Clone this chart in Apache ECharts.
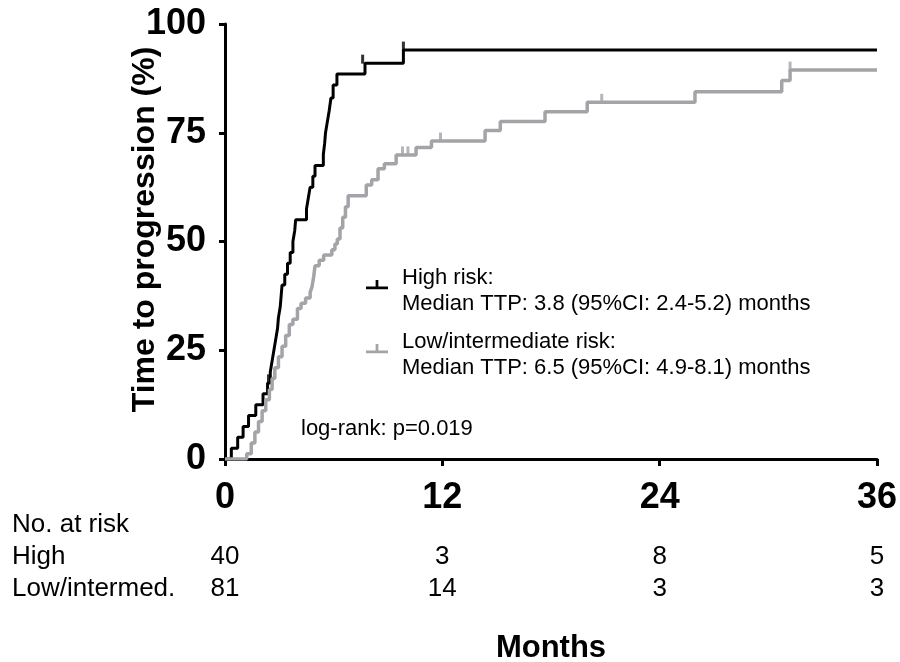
<!DOCTYPE html>
<html>
<head>
<meta charset="utf-8">
<script src="https://cdn.jsdelivr.net/npm/echarts/dist/echarts.min.js"></script>
<style>html,body{margin:0;padding:0;background:#fff}#c{width:900px;height:662px}</style>
</head>
<body>
<div id="c"></div>
<script>
// High risk group: cumulative % with progression over months
const highTimes = [0, 0.35, 0.7, 1.0, 1.3, 1.7, 2.1, 2.35, 2.5, 2.6, 2.7, 2.8, 2.9, 2.95, 3.05, 3.1, 3.15, 3.3, 3.45, 3.6, 3.75, 3.85, 3.9, 4.5, 4.6, 4.7, 4.85, 4.97, 5.43, 5.5, 5.55, 5.65, 5.75, 5.85, 5.97, 6.18, 7.73, 9.85, 36];
const highPct   = [0, 2.5, 5, 7.5, 10, 12.5, 15, 17.5, 20, 22.5, 25, 27.5, 30, 32.5, 35, 37.5, 40, 42.5, 45, 47.5, 50, 52.5, 55, 57.5, 60, 62.5, 65, 67.5, 70, 72.5, 75, 77.5, 80, 83, 86, 88.5, 91, 94, 94];
const highCensorTimes = [2.4, 7.6, 9.85];
const highCensorPct   = [17.5, 91, 94];

// Low/intermediate risk group
const lowTimes = [0, 1.2, 1.45, 1.65, 1.85, 2.05, 2.25, 2.45, 2.6, 2.75, 2.95, 3.15, 3.35, 3.55, 3.75, 4.0, 4.2, 4.45, 4.7, 4.8, 4.9, 4.97, 5.2, 5.45, 5.9, 6.07, 6.2, 6.35, 6.5, 6.65, 6.8, 7.8, 8.1, 8.45, 8.8, 9.45, 10.55, 11.4, 14.36, 15.2, 17.67, 20.0, 25.95, 30.74, 31.2, 36];
const lowPct   = [0, 1.2, 3.7, 6.2, 8.6, 11.1, 13.6, 16.0, 18.5, 21.0, 23.5, 25.9, 28.4, 30.9, 32.1, 34.6, 35.8, 37.0, 38.3, 39.5, 42.0, 44.4, 45.7, 46.9, 48.1, 49.4, 50.6, 53.1, 55.6, 58.0, 60.5, 63.0, 64.2, 66.7, 67.9, 69.9, 71.6, 73.1, 75.5, 77.6, 79.8, 82.0, 84.4, 87.0, 89.4, 89.4];
const lowCensorTimes = [9.8, 10.1, 11.9, 20.8, 31.2];
const lowCensorPct   = [69.9, 69.9, 73.1, 82.0, 89.4];

// Axes / table
const xTicks = [0, 12, 24, 36];
const yTicks = [0, 25, 50, 75, 100];
const atRiskHigh = [40, 3, 8, 5];
const atRiskLow  = [81, 14, 3, 3];
const rowLabels = ['No. at risk', 'High', 'Low/intermed.'];
const seriesNames = ['High risk', 'Low/intermediate risk'];
const legendText = {
  'High risk': 'High risk:\nMedian TTP: 3.8 (95%CI: 2.4-5.2) months',
  'Low/intermediate risk': 'Low/intermediate risk:\nMedian TTP: 6.5 (95%CI: 4.9-8.1) months'
};
const logRankText = 'log-rank: p=0.019';

const BLACK = '#000000', GRAY = '#a4a4a8';
const tickFont = '"Liberation Sans", Arial, sans-serif';
const textFont = '"Liberation Sans", Arial, sans-serif';

function pairs(t, v) { return t.map((x, i) => [x, v[i]]); }

const chart = echarts.init(document.getElementById('c'), null, {renderer: 'canvas'});

function tableAxis(offset, values) {
  return {
    type: 'value', position: 'bottom', gridIndex: 0, offset: offset,
    min: xTicks[0], max: xTicks[xTicks.length - 1], interval: xTicks[1] - xTicks[0],
    axisLine: {show: false}, axisTick: {show: false}, splitLine: {show: false},
    axisLabel: {
      show: true, margin: 0, showMinLabel: true, showMaxLabel: true, hideOverlap: false,
      color: '#000', fontFamily: textFont, fontSize: 26,
      formatter: v => { const i = xTicks.indexOf(v); return i >= 0 ? String(values[i]) : ''; }
    }
  };
}

// censor-mark style icon (tick on a bar), placed in the upper part of its box
const iconPath = 'path://M10.5,0 L13.5,0 L13.5,7 L10.5,7 Z M0,7 L24,7 L24,10 L0,10 Z M0,24 L0.01,24 Z';

chart.setOption({
  animation: false,
  backgroundColor: '#fff',
  grid: {left: 225, right: 23, top: 24, bottom: 203, containLabel: false, outerBoundsMode: 'none'},
  legend: {
    orient: 'vertical', left: 366, top: 265, padding: 0, itemGap: 12,
    itemWidth: 22, itemHeight: 24, selectedMode: false,
    data: [
      {name: seriesNames[0], icon: iconPath, itemStyle: {color: BLACK}},
      {name: seriesNames[1], icon: iconPath, itemStyle: {color: GRAY}}
    ],
    formatter: n => legendText[n],
    textStyle: {color: '#000', fontFamily: textFont, fontSize: 22, lineHeight: 26, padding: [0, 0, 0, 9]}
  },
  xAxis: [
    {
      type: 'value', min: xTicks[0], max: xTicks[xTicks.length - 1], interval: xTicks[1] - xTicks[0],
      name: 'Months', nameLocation: 'middle', nameGap: 174, nameMoveOverlap: false,
      nameTextStyle: {color: '#000', fontFamily: textFont, fontWeight: 'bold', fontSize: 31},
      axisLine: {show: true, onZero: false, lineStyle: {color: '#000', width: 3}},
      axisTick: {show: true, length: 7, lineStyle: {color: '#000', width: 3}},
      splitLine: {show: false},
      axisLabel: {margin: 21, color: '#000', fontFamily: tickFont, fontWeight: 'bold', fontSize: 36, showMinLabel: true, showMaxLabel: true}
    },
    tableAxis(85, atRiskHigh),
    tableAxis(117, atRiskLow)
  ],
  yAxis: {
    type: 'value', min: yTicks[0], max: yTicks[yTicks.length - 1], interval: yTicks[1] - yTicks[0],
    offset: 4,
    name: 'Time to progression (%)', nameLocation: 'middle', nameGap: 60, nameMoveOverlap: false,
    nameTextStyle: {color: '#000', fontFamily: textFont, fontWeight: 'bold', fontSize: 32, padding: [0, 0, 0, 24]},
    axisLine: {show: true, lineStyle: {color: '#000', width: 3}},
    axisTick: {show: true, length: 6, lineStyle: {color: '#000', width: 3}},
    splitLine: {show: false},
    axisLabel: {margin: 15, color: '#000', fontFamily: tickFont, fontWeight: 'bold', fontSize: 36, showMinLabel: true, showMaxLabel: true}
  },
  graphic: [
    {type: 'text', x: 12, y: 525, style: {text: rowLabels[0], fill: '#000', font: '26px ' + textFont, verticalAlign: 'middle'}},
    {type: 'text', x: 12, y: 557, style: {text: rowLabels[1], fill: '#000', font: '26px ' + textFont, verticalAlign: 'middle'}},
    {type: 'text', x: 12, y: 589, style: {text: rowLabels[2], fill: '#000', font: '26px ' + textFont, verticalAlign: 'middle'}},
    {type: 'text', x: 301, y: 429, style: {text: logRankText, fill: '#000', font: '22px ' + textFont, verticalAlign: 'middle'}}
  ],
  series: [
    {
      name: seriesNames[0], type: 'line', step: 'end', data: pairs(highTimes, highPct),
      showSymbol: false, color: BLACK, lineStyle: {color: BLACK, width: 3}, z: 3
    },
    {
      name: seriesNames[1], type: 'line', step: 'end', data: pairs(lowTimes, lowPct),
      showSymbol: false, color: GRAY, lineStyle: {color: GRAY, width: 3.5}, z: 4
    },
    {
      name: seriesNames[0] + ' censored', type: 'scatter', data: pairs(highCensorTimes, highCensorPct),
      symbol: 'rect', symbolSize: [3, 9], symbolOffset: [0, -4], itemStyle: {color: BLACK}, z: 3
    },
    {
      name: seriesNames[1] + ' censored', type: 'scatter', data: pairs(lowCensorTimes, lowCensorPct),
      symbol: 'rect', symbolSize: [3, 9], symbolOffset: [0, -4], itemStyle: {color: GRAY}, z: 4
    }
  ]
});
</script>
</body>
</html>
